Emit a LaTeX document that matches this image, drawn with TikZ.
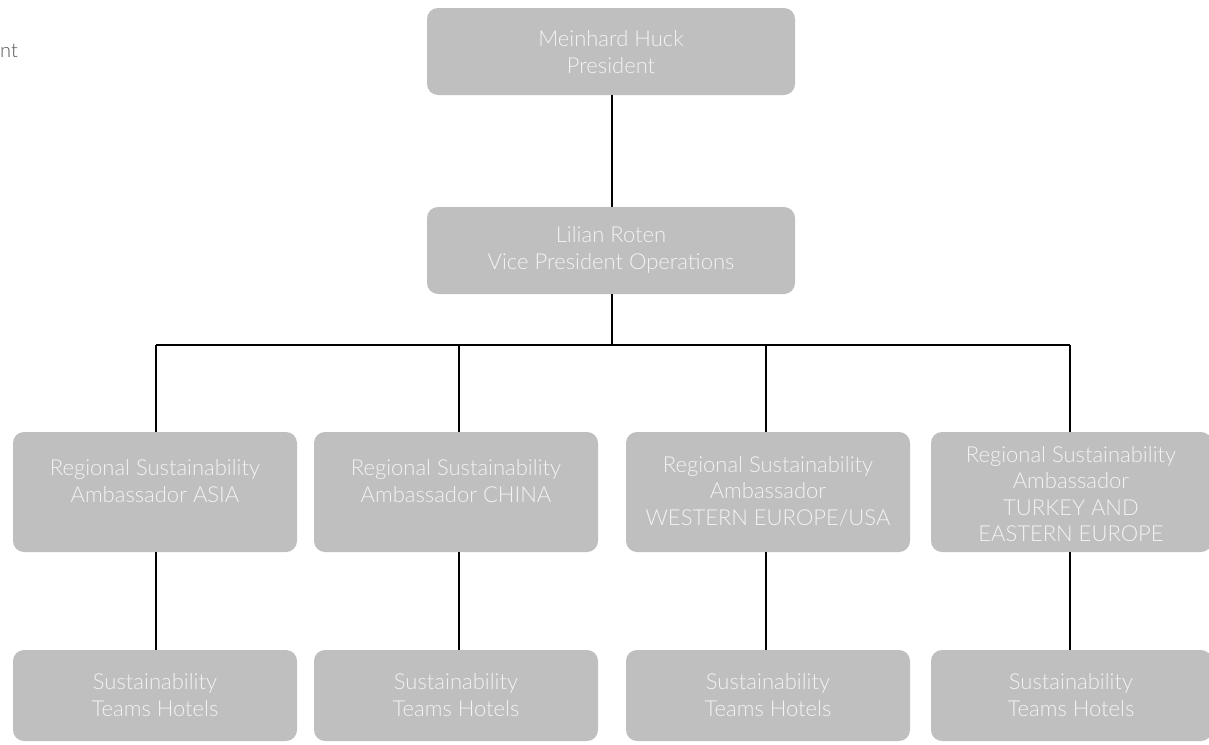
\documentclass[tikz,border=0pt]{standalone}
\usepackage{fontspec}
\setmainfont{Lato Light}
\definecolor{boxgray}{RGB}{191,191,191}
\definecolor{boxtext}{RGB}{243,243,243}
\definecolor{sidetext}{RGB}{85,85,85}
\begin{document}
\begin{tikzpicture}[x=1pt,y=-1pt,
  orgbox/.style={fill=boxgray, rounded corners=11pt, inner sep=0pt},
  orgtext/.style={text=boxtext, align=center, font=\fontsize{22}{26.5}\selectfont, inner sep=0pt},
  link/.style={draw=black, line width=1.4pt}]
\useasboundingbox (0,0) rectangle (1209,744);

% side caption
\node[anchor=west, text=sidetext, font=\fontsize{20}{24}\selectfont, inner sep=0pt] (side) at (0,51) {nt};

% top levels
\path[orgbox] (427,8) rectangle (795,95);
\node[orgtext] (pres) at (611,52) {Meinhard Huck\\President};
\path[orgbox] (427,207) rectangle (795,294);
\node[orgtext] (vp) at (611,250) {Lilian Roten\\Vice President Operations};

% regional ambassadors
\path[orgbox] (13,432) rectangle (297,552);
\node[orgtext] (r1) at (155,481) {Regional Sustainability\\Ambassador ASIA};
\path[orgbox] (314,432) rectangle (598,552);
\node[orgtext] (r2) at (456,481) {Regional Sustainability\\Ambassador CHINA};
\path[orgbox] (626,432) rectangle (910,552);
\node[orgtext] (r3) at (768,491) {Regional Sustainability\\Ambassador\\WESTERN EUROPE/USA};
\path[orgbox] (931,432) rectangle (1212,552);
\node[orgtext] (r4) at (1071,494) {Regional Sustainability\\Ambassador\\TURKEY AND\\EASTERN EUROPE};

% hotel teams
\path[orgbox] (13,650) rectangle (297,741);
\node[orgtext] (t1) at (155,695) {Sustainability\\Teams Hotels};
\path[orgbox] (314,650) rectangle (598,741);
\node[orgtext] (t2) at (456,695) {Sustainability\\Teams Hotels};
\path[orgbox] (626,650) rectangle (910,741);
\node[orgtext] (t3) at (768,695) {Sustainability\\Teams Hotels};
\path[orgbox] (931,650) rectangle (1212,741);
\node[orgtext] (t4) at (1071,695) {Sustainability\\Teams Hotels};

% connector points on the box edges
\coordinate (presS) at (612,95);
\coordinate (vpN) at (612,207);
\coordinate (vpS) at (612,294);
\coordinate (bus) at (612,345);
\foreach \i/\x in {1/156,2/459,3/766,4/1070}{
  \coordinate (b\i) at (\x,345);
  \coordinate (rN\i) at (\x,432);
  \coordinate (rS\i) at (\x,552);
  \coordinate (tN\i) at (\x,650);
}

% connectors
\draw[link] (presS) -- (vpN);
\draw[link] (vpS) -- (bus);
\draw[link] (b1) -- (b4);
\foreach \i in {1,2,3,4}{
  \draw[link] (b\i) -- (rN\i);
  \draw[link] (rS\i) -- (tN\i);
}
\end{tikzpicture}
\end{document}
